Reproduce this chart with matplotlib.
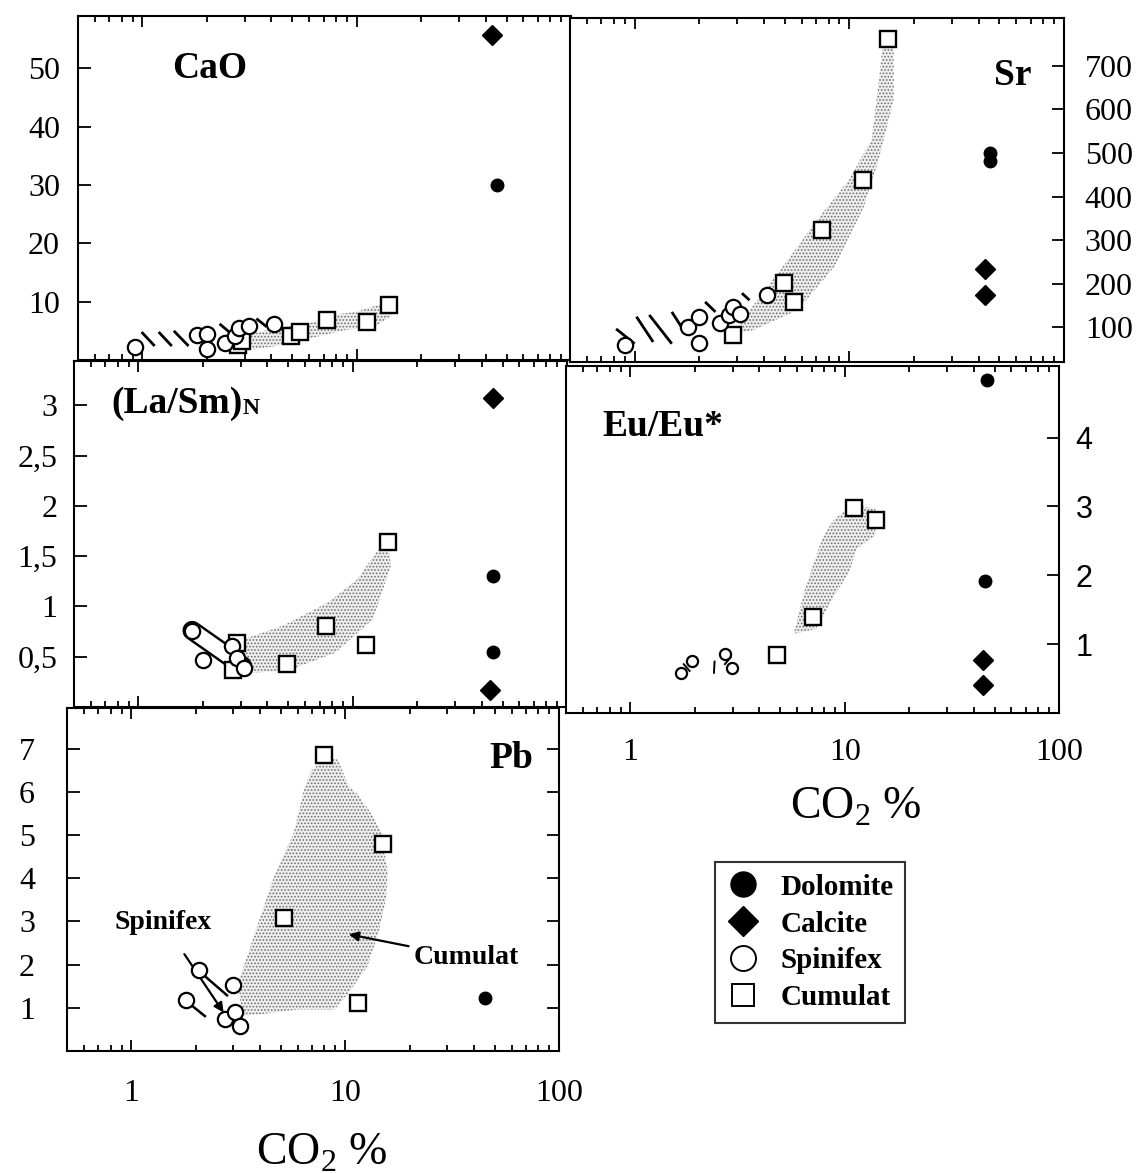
import numpy as np
import matplotlib
matplotlib.use("Agg")
import matplotlib.pyplot as plt
from matplotlib.lines import Line2D
from matplotlib.ticker import FixedLocator, LogLocator, NullFormatter

plt.rcParams["font.family"] = ["Liberation Serif", "DejaVu Serif"]
plt.rcParams["mathtext.fontset"] = "custom"
plt.rcParams["mathtext.rm"] = "Liberation Serif"
plt.rcParams["hatch.linewidth"] = 0.8

# ---------------- data (CO2 % on x) ----------------
# CaO
cao_dol_x = [45]
cao_dol_y = [30.1]
cao_cal_x = [43]
cao_cal_y = [55.7]
cao_spx_x = [0.92, 1.79, 2.0, 2.0, 2.44, 2.69, 2.82, 3.13, 4.1]
cao_spx_y = [2.2, 4.3, 4.5, 1.9, 3.0, 4.1, 5.5, 5.9, 6.1]
cao_cum_x = [2.78, 2.9, 4.93, 5.45, 7.3, 11.2, 14.2]
cao_cum_y = [2.5, 3.3, 4.1, 4.8, 6.8, 6.5, 9.4]

# Sr
sr_dol_x = [45, 45]
sr_dol_y = [500, 482]
sr_cal_x = [43, 43]
sr_cal_y = [233, 174]
sr_spx_x = [0.9, 1.77, 2.0, 2.0, 2.49, 2.74, 2.86, 3.08, 4.12]
sr_spx_y = [58, 101, 124, 63, 109, 128, 147, 131, 174]
sr_cum_x = [2.86, 4.94, 5.5, 7.5, 11.6, 15.2]
sr_cum_y = [81, 201, 157, 323, 437, 761]

# (La/Sm)N
la_dol_x = [45, 45]
la_dol_y = [1.30, 0.55]
la_cal_x = [45, 43.5]
la_cal_y = [3.07, 0.17]
la_spx_x = [1.78, 2.0, 2.72, 2.88, 3.12]
la_spx_y = [0.76, 0.47, 0.61, 0.49, 0.39]
la_cum_x = [2.76, 2.88, 4.95, 7.5, 11.5, 14.6]
la_cum_y = [0.37, 0.64, 0.43, 0.81, 0.62, 1.64]

# Eu/Eu*
eu_dol_x = [46, 45]
eu_dol_y = [4.84, 1.91]
eu_cal_x = [44, 44]
eu_cal_y = [0.77, 0.41]
eu_spx_x = [1.72, 1.93, 2.75, 2.98]
eu_spx_y = [0.58, 0.76, 0.86, 0.65]
eu_cum_x = [4.83, 7.1, 11.1, 14.0]
eu_cum_y = [0.84, 1.40, 2.98, 2.80]

# Pb
pb_dol_x = [45.2]
pb_dol_y = [1.22]
pb_spx_x = [1.81, 2.08, 2.75, 2.98, 3.06, 3.23]
pb_spx_y = [1.18, 1.87, 0.75, 1.52, 0.91, 0.59]
pb_cum_x = [5.2, 7.95, 11.5, 15.1]
pb_cum_y = [3.07, 6.85, 1.12, 4.80]

# stippled cumulat fields (outline vertices)
cao_field_x = [3.0, 4.0, 6.0, 8.0, 10.0, 13.0, 15.5, 15.5, 12.0, 9.0, 6.0, 4.5, 3.3]
cao_field_y = [4.2, 5.3, 6.3, 7.8, 8.3, 9.6, 10.5, 8.3, 5.6, 5.2, 3.7, 2.6, 1.8]
sr_field_x = [2.92, 3.16, 4.9, 7.28, 10.0, 12.7, 13.7, 14.3, 16.1, 16.1, 13.7, 11.7, 8.53, 5.74, 3.56]
sr_field_y = [85, 116, 239, 354, 439, 531, 661, 746, 746, 623, 485, 377, 239, 139, 93]
la_field_x = [3.06, 4.74, 7.68, 10.5, 12.9, 14.6, 15.1, 12.4, 8.3, 4.95, 3.45, 3.0]
la_field_y = [0.67, 0.81, 1.04, 1.27, 1.54, 1.62, 1.41, 0.87, 0.54, 0.36, 0.34, 0.45]
eu_field_x = [5.78, 6.52, 7.95, 8.96, 10.9, 13.9, 13.9, 11.4, 10.5, 8.96, 7.34]
eu_field_y = [1.15, 1.80, 2.58, 2.82, 3.02, 2.97, 2.58, 2.39, 2.05, 1.71, 1.22]
pb_field_x = [3.29, 3.16, 4.02, 4.71, 5.74, 6.47, 7.0, 8.2, 9.25, 10.4, 11.3, 13.2, 14.9,
              15.8, 15.5, 14.3, 12.7, 10.4, 8.9, 5.97, 4.02]
pb_field_y = [0.81, 1.58, 3.12, 4.12, 5.04, 6.12, 6.51, 6.81, 6.74, 6.12, 5.97, 5.51, 5.04,
              4.12, 3.50, 2.73, 1.96, 1.35, 0.96, 0.96, 0.85]

# spinifex hatch strokes / tie lines  ((x0, y0), (x1, y1))
cao_ties = [((0.99, 4.8), (1.14, 2.4)), ((1.19, 4.8), (1.37, 2.4)), ((1.40, 5.0), (1.64, 2.4)),
            ((2.29, 6.2), (2.54, 4.8)), ((3.4, 7.1), (3.8, 5.7))]
sr_ties = [((0.82, 96), (1.0, 62)), ((1.02, 124), (1.22, 66)), ((1.17, 128), (1.49, 62)),
           ((1.49, 135), (1.67, 97)), ((2.13, 158), (2.38, 135)), ((3.16, 178), (3.43, 162))]
la_capsule = [(1.78, 0.76), (3.05, 0.41)]
eu_ties = [((1.76, 0.72), (1.9, 0.6)), ((2.45, 0.57), (2.47, 0.76)), ((2.74, 0.7), (2.96, 0.82))]
pb_ties = [((2.21, 1.73), (2.83, 1.27)), ((1.93, 1.04), (2.23, 0.79))]

W, H = 1139, 1173
fig = plt.figure(figsize=(W / 100, H / 100), dpi=100)


def box(l, t, r, b):
    return [l / W, 1 - b / H, (r - l) / W, (b - t) / H]


def setup(ax, ylim, yticks, ylabels, side="left", both=False, xlabels=False,
          ypad=14, xpad=18, yfont=None, ysize=23):
    ax.set_xscale("log")
    ax.set_xlim(0.5, 100)
    ax.set_ylim(*ylim)
    ax.xaxis.set_major_locator(FixedLocator([1, 10, 100]))
    ax.xaxis.set_minor_locator(LogLocator(base=10, subs=np.arange(2, 10), numticks=20))
    ax.xaxis.set_minor_formatter(NullFormatter())
    ax.tick_params(axis="x", which="both", direction="in", top=True, bottom=True,
                   width=1.3, labelbottom=xlabels, labelsize=23, pad=xpad)
    ax.tick_params(axis="x", which="major", length=8)
    ax.tick_params(axis="x", which="minor", length=4.5)
    if xlabels:
        ax.set_xticklabels(["1", "10", "100"])
    ax.set_yticks(yticks)
    ax.set_yticklabels(ylabels)
    ax.tick_params(axis="y", which="both", direction="in", length=9, width=1.3,
                   left=(side == "left" or both), right=(side == "right" or both),
                   labelleft=(side == "left"), labelright=(side == "right"),
                   labelsize=ysize, pad=ypad)
    ax.yaxis.set_minor_locator(FixedLocator([]))
    if yfont:
        for lab in ax.get_yticklabels():
            lab.set_family(yfont)
    for s in ax.spines.values():
        s.set_linewidth(1.5)


def field(ax, xs, ys):
    ax.fill(xs, ys, facecolor="#eeeeee", edgecolor="#707070", linewidth=0,
            hatch=".....", zorder=1)


def ties(ax, segs, lw=2.0):
    for (x0, y0), (x1, y1) in segs:
        ax.plot([x0, x1], [y0, y1], color="black", lw=lw, solid_capstyle="butt", zorder=2)


def points(ax, dol=None, cal=None, spx=None, cum=None, spx_ms=11):
    if cum:
        ax.plot(cum[0], cum[1], ls="none", marker="s", ms=11, mfc="white", mec="black",
                mew=1.7, zorder=4)
    if spx:
        ax.plot(spx[0], spx[1], ls="none", marker="o", ms=spx_ms, mfc="white", mec="black",
                mew=1.6, zorder=5)
    if dol:
        ax.plot(dol[0], dol[1], ls="none", marker="o", ms=9, color="black", zorder=5)
    if cal:
        ax.plot(cal[0], cal[1], ls="none", marker="D", ms=10, color="black", zorder=5)


label_kw = dict(fontsize=27, fontweight="bold", va="baseline")

# CaO
ax1 = fig.add_axes(box(78, 16, 571, 360))
setup(ax1, (0, 59), [10, 20, 30, 40, 50], ["10", "20", "30", "40", "50"], side="left", ypad=13)
field(ax1, cao_field_x, cao_field_y)
ties(ax1, cao_ties)
points(ax1, (cao_dol_x, cao_dol_y), (cao_cal_x, cao_cal_y), (cao_spx_x, cao_spx_y),
       (cao_cum_x, cao_cum_y))
ax1.text(0.19, 0.82, "CaO", transform=ax1.transAxes, ha="left", **label_kw)

# Sr
ax2 = fig.add_axes(box(570, 18, 1064, 362))
setup(ax2, (20, 810), [100, 200, 300, 400, 500, 600, 700],
      ["100", "200", "300", "400", "500", "600", "700"], side="right", ypad=15)
field(ax2, sr_field_x, sr_field_y)
ties(ax2, sr_ties)
points(ax2, (sr_dol_x, sr_dol_y), (sr_cal_x, sr_cal_y), (sr_spx_x, sr_spx_y),
       (sr_cum_x, sr_cum_y))
ax2.text(0.935, 0.805, "Sr", transform=ax2.transAxes, ha="right", **label_kw)

# (La/Sm)N
ax3 = fig.add_axes(box(74, 361, 567, 707))
setup(ax3, (0, 3.44), [0.5, 1, 1.5, 2, 2.5, 3], ["0,5", "1", "1,5", "2", "2,5", "3"],
      side="left", ypad=12)
field(ax3, la_field_x, la_field_y)
ax3.plot([p[0] for p in la_capsule], [p[1] for p in la_capsule], color="black", lw=14,
         solid_capstyle="round", zorder=2)
ax3.plot([p[0] for p in la_capsule], [p[1] for p in la_capsule], color="white", lw=10.5,
         solid_capstyle="round", zorder=2)
points(ax3, (la_dol_x, la_dol_y), (la_cal_x, la_cal_y), (la_spx_x, la_spx_y),
       (la_cum_x, la_cum_y))
t3 = ax3.text(0.075, 0.85, "(La/Sm)", transform=ax3.transAxes, ha="left", **label_kw)
ax3.annotate("N", xy=(1.0, 0.2), xycoords=t3, fontsize=17, fontweight="bold",
             ha="left", va="baseline")

# Eu/Eu*
ax4 = fig.add_axes(box(566, 366, 1059, 713))
setup(ax4, (0, 5.04), [1, 2, 3, 4], ["1", "2", "3", "4"], side="right", xlabels=True,
      ypad=12, xpad=18, yfont="Liberation Sans", ysize=22)
field(ax4, eu_field_x, eu_field_y)
ties(ax4, eu_ties, lw=1.4)
points(ax4, (eu_dol_x, eu_dol_y), (eu_cal_x, eu_cal_y), (eu_spx_x, eu_spx_y),
       (eu_cum_x, eu_cum_y), spx_ms=8)
ax4.text(0.074, 0.798, "Eu/Eu*", transform=ax4.transAxes, ha="left", **label_kw)

# Pb
ax5 = fig.add_axes(box(67, 708, 559, 1051))
setup(ax5, (0, 7.94), [1, 2, 3, 4, 5, 6, 7], ["1", "2", "3", "4", "5", "6", "7"],
      side="left", both=True, xlabels=True, ypad=23, xpad=20)
field(ax5, pb_field_x, pb_field_y)
ties(ax5, pb_ties, lw=1.8)
points(ax5, dol=(pb_dol_x, pb_dol_y), spx=(pb_spx_x, pb_spx_y), cum=(pb_cum_x, pb_cum_y))
ax5.text(0.947, 0.825, "Pb", transform=ax5.transAxes, ha="right", **label_kw)
ax5.annotate("Spinifex", xy=(2.70, 0.89), xytext=(1.41, 2.97), fontsize=20,
             fontweight="bold", ha="center", va="center",
             arrowprops=dict(arrowstyle="-|>", color="black", lw=1.6,
                             mutation_scale=14, shrinkA=14, shrinkB=0))
ax5.annotate("Cumulat", xy=(10.4, 2.7), xytext=(37, 2.16), fontsize=20,
             fontweight="bold", ha="center", va="center",
             arrowprops=dict(arrowstyle="-|>", color="black", lw=1.6,
                             mutation_scale=14, shrinkA=2, shrinkB=0))

# axis titles
fig.text(322 / W, 1 - 1164 / H, r"CO$_2$ %", fontsize=33, ha="center", va="baseline")
fig.text(856 / W, 1 - 818 / H, r"CO$_2$ %", fontsize=33, ha="center", va="baseline")

# legend
handles = [
    Line2D([], [], ls="none", marker="o", ms=18, color="black"),
    Line2D([], [], ls="none", marker="D", ms=15, color="black"),
    Line2D([], [], ls="none", marker="o", ms=18, mfc="white", mec="black", mew=1.4),
    Line2D([], [], ls="none", marker="s", ms=16, mfc="white", mec="black", mew=1.4),
]
leg = fig.legend(handles, ["Dolomite", "Calcite", "Spinifex", "Cumulat"],
                 loc="upper left", bbox_to_anchor=(715 / W, 1 - 862 / H),
                 prop=dict(size=21, weight="bold"), frameon=True, fancybox=False,
                 edgecolor="black", borderpad=0.4, labelspacing=0.34,
                 handletextpad=0.75, handlelength=1.1, borderaxespad=0)
leg.get_frame().set_linewidth(1.5)

fig.savefig("out.png", dpi=100)
